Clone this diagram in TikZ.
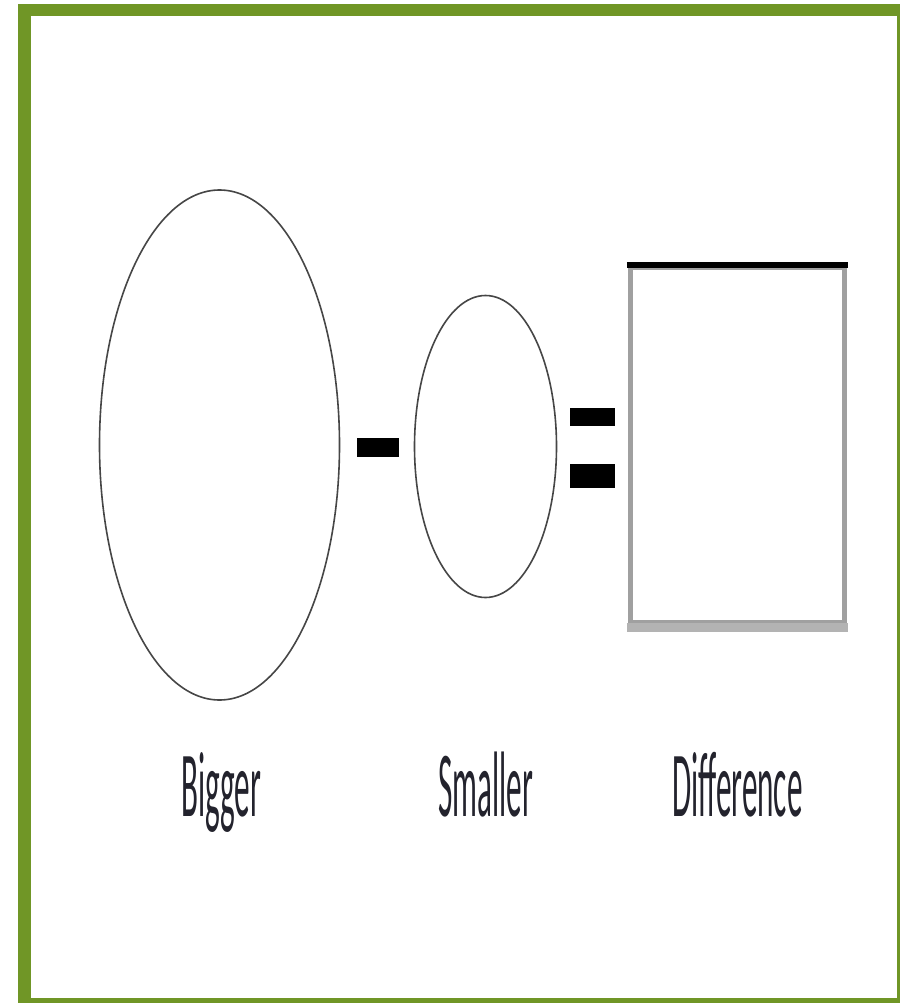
\documentclass[tikz,border=0pt]{standalone}
\usepackage{fontspec}
\setmainfont{Carlito}
\usetikzlibrary{shapes.geometric}
\definecolor{framegreen}{RGB}{112,150,38}
\definecolor{outline}{RGB}{70,70,70}
\definecolor{boxgray}{RGB}{160,160,160}
\definecolor{labelcol}{RGB}{35,35,45}
\tikzset{
  oval/.style={ellipse, draw=outline, line width=1.6pt, inner sep=0pt},
  bar/.style={fill=black, inner sep=0pt, draw=none},
  lbl/.style={text=labelcol, inner sep=0pt, anchor=base, font=\fontsize{93}{93}\selectfont},
  greenbar/.style={fill=framegreen, draw=none}
}
\newcommand{\squeeze}[1]{\scalebox{0.335}[1]{#1}}
\begin{document}
\begin{tikzpicture}[x=1pt,y=-1pt]
\useasboundingbox (0,0) rectangle (900,1003);
\fill[white] (0,0) rectangle (900,1003);
% green frame
\fill[greenbar] (18,4) rectangle (31,1003);
\fill[greenbar] (18,4) rectangle (900,16.5);
\fill[greenbar] (897,4) rectangle (900,1003);
\fill[greenbar] (18,998) rectangle (900,1003);
% shapes
\node[oval, minimum width=240pt, minimum height=510pt] (big) at (219.5,445) {};
\node[oval, minimum width=142pt, minimum height=302pt] (small) at (485.5,446.5) {};
\node[bar, minimum width=42pt, minimum height=19pt] (minus) at (378,447.5) {};
\node[bar, minimum width=45pt, minimum height=18pt] (eqtop) at (592.5,416.5) {};
\node[bar, minimum width=45pt, minimum height=24pt] (eqbot) at (592.5,475.5) {};
\node[draw=boxgray, line width=5pt, minimum width=214.5pt, minimum height=355.5pt, inner sep=0pt] (diff) at (737.5,445) {};
\draw[black, line width=6pt] ([xshift=-1pt]diff.north west) -- ([xshift=1pt]diff.north east);
\draw[boxgray!80, line width=9pt] ([xshift=-1pt,yshift=-2pt]diff.south west) -- ([xshift=1pt,yshift=-2pt]diff.south east);
% labels
\node[lbl] (lbig) at (221,816) {\squeeze{Bigger}};
\node[lbl] (lsmall) at (485.5,816) {\squeeze{Smaller}};
\node[lbl] (ldiff) at (737.5,816) {\squeeze{Difference}};
\end{tikzpicture}
\end{document}
